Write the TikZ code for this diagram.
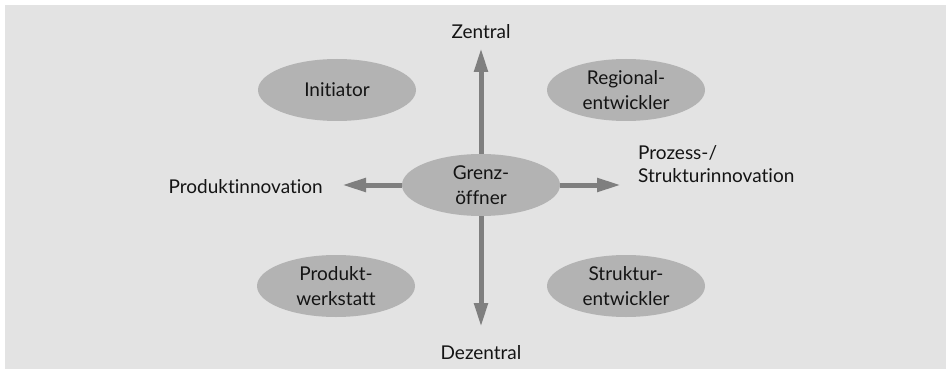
\documentclass[tikz,border=0pt]{standalone}
\usepackage{fontspec}
\setmainfont{Lato}[Ligatures={NoCommon}]
\usetikzlibrary{arrows.meta,shapes.geometric}
\definecolor{panel}{HTML}{E3E3E3}
\definecolor{blob}{HTML}{B3B3B3}
\definecolor{axis}{HTML}{7F7F7F}
\definecolor{ink}{HTML}{141414}
\begin{document}
\begin{tikzpicture}[x=1pt,y=-1pt,
  role/.style={ellipse,fill=blob,minimum width=158pt,minimum height=62pt,inner sep=0pt,
    text=ink,align=center,font=\fontsize{19}{25}\selectfont},
  lbl/.style={text=ink,font=\fontsize{19}{23}\selectfont,inner sep=0pt},
  axisarrow/.style={draw=axis,line width=5pt,-{Triangle[length=24pt,width=13pt]}}]
  \useasboundingbox (0,0) rectangle (952,377);
  \fill[panel] (5,5) rectangle (946,369);

  % role ellipses
  \node[role] (center) at (481,185) {Grenz-\\öffner};
  \node[role] (init) at (337,90) {Initiator};
  \node[role] (regio) at (626,90) {Regional-\\entwickler};
  \node[role] (prod) at (336,286) {Produkt-\\werkstatt};
  \node[role] (struk) at (626,286) {Struktur-\\entwickler};

  % axis ends
  \coordinate (up) at (481,48);
  \coordinate (down) at (481,327);
  \coordinate (left) at (342,185);
  \coordinate (right) at (621,185);

  \draw[axisarrow] (center.north) -- (up);
  \draw[axisarrow] (center.south) -- (down);
  \draw[axisarrow] (center.west) -- (left);
  \draw[axisarrow] (center.east) -- (right);

  % axis labels
  \node[lbl,anchor=base] (zen) at (481,39) {Zentral};
  \node[lbl,anchor=base] (dez) at (481,359) {Dezentral};
  \node[lbl,anchor=base east] (pinn) at (323,193) {Produktinnovation};
  \node[lbl,anchor=base west,align=left] (sinn) at (638,182) {Prozess-/\\Strukturinnovation};
\end{tikzpicture}
\end{document}
